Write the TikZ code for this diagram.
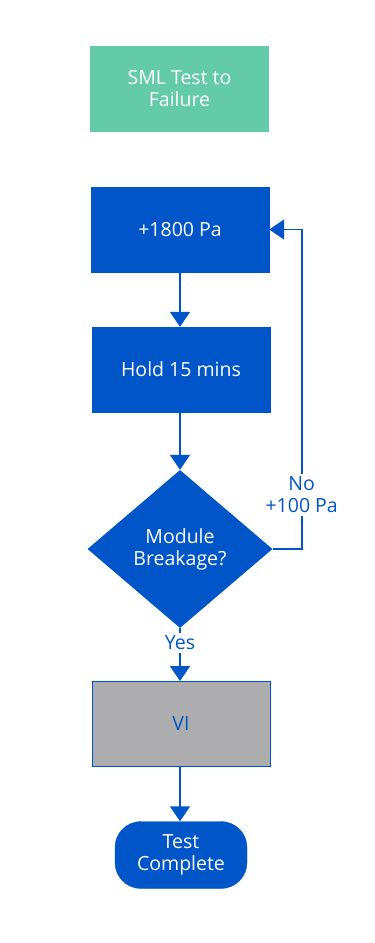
\documentclass[tikz,border=0pt]{standalone}
\usepackage{fontspec}
\setmainfont{Open Sans}
\usetikzlibrary{arrows.meta,positioning,shapes.geometric}
\definecolor{flowblue}{RGB}{0,86,201}
\definecolor{startgreen}{RGB}{99,203,168}
\definecolor{vigray}{RGB}{173,173,176}
\tikzset{
  proc/.style={rectangle,fill=flowblue,draw=flowblue,text=white,
               minimum width=178pt,minimum height=85pt,
               font=\fontsize{19.5}{22}\selectfont,align=center},
  startnd/.style={proc,fill=startgreen,draw=startgreen},
  vinode/.style={proc,fill=vigray,text=flowblue,line width=1pt},
  check/.style={diamond,fill=flowblue,text=white,inner sep=0pt,
                minimum width=185pt,minimum height=158pt,
                font=\fontsize{19.5}{22}\selectfont,align=center},
  term/.style={proc,rounded corners=26pt,minimum width=132pt,minimum height=67pt},
  ar/.style={-{Triangle[length=15pt,width=20pt]},line width=1.6pt,flowblue},
  lbl/.style={fill=white,text=flowblue,inner sep=3pt,
              font=\fontsize{19.5}{22}\selectfont,align=center},
}
\begin{document}
\begin{tikzpicture}[x=1pt,y=-1pt]
    \fill[white] (0,0) rectangle (375,943);
    \useasboundingbox (0,0) rectangle (375,943);
    \node[startnd] (sml) at (179.5,88.5) {SML Test to\\Failure};
    \node[proc] (p1800) at (180,229.5) {+1800 Pa};
    \node[proc] (hold) at (181,369.5) {Hold 15 mins};
    \node[check] (chk) at (180,549) {Module\\Breakage?};
    \node[vinode] (vi) at (181,724) {VI};
    \node[term] (done) at (181,855) {Test\\Complete};
    % main flow
    \draw[ar] (p1800.south) -- (p1800.south |- hold.north);
    \draw[ar] (hold.south -| chk.north) -- (chk.north);
    \draw[ar] (chk.south) -- (chk.south |- vi.north)
      node[lbl,pos=0.28] (yes) {Yes};
    \draw[ar] (vi.south -| chk.south) -- (chk.south |- done.north);
    % loop back
    \draw[ar] (chk.east) -- ++(29,0) coordinate (back) |- (p1800.east);
    \node[lbl] (no) at (back |- 0,495) {No\\+100 Pa};
\end{tikzpicture}
\end{document}
